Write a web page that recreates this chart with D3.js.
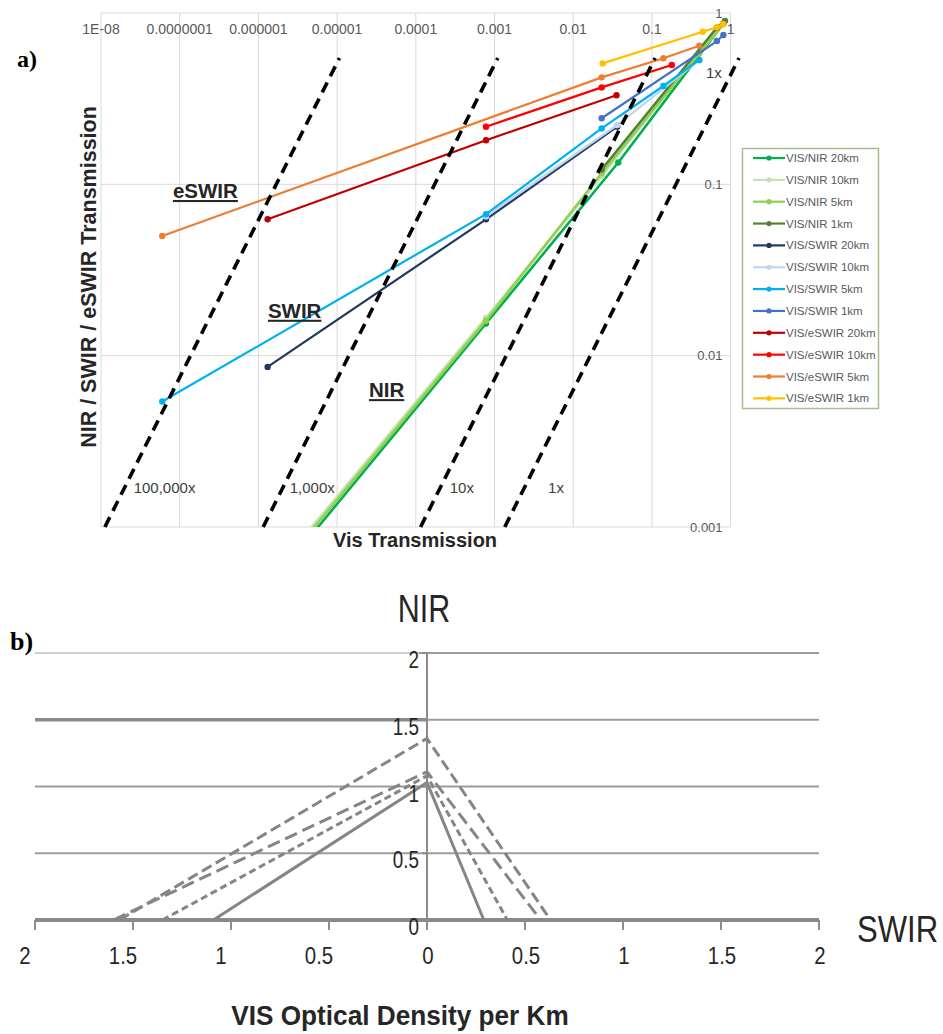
<!DOCTYPE html>
<html>
<head>
<meta charset="utf-8">
<script src="https://cdn.jsdelivr.net/npm/d3@7"></script>
<style>
  body { margin: 0; background: #fff; }
  svg text { font-family: "Liberation Sans", Arial, sans-serif; }
</style>
</head>
<body>
<svg id="viz" width="943" height="1034"></svg>
<script>
// ---------- chart a) : transmission, log/log ----------
var xTicksA = [1e-8, 1e-7, 1e-6, 1e-5, 1e-4, 1e-3, 1e-2, 1e-1, 1];
var xTickLabelsA = ["1E-08", "0.0000001", "0.000001", "0.00001", "0.0001", "0.001", "0.01", "0.1", "1"];
var yTicksA = [0.001, 0.01, 0.1, 1];
var yTickLabelsA = ["0.001", "0.01", "0.1", "1"];

var seriesNames = ["VIS/NIR 20km", "VIS/NIR 10km", "VIS/NIR 5km", "VIS/NIR 1km",
                   "VIS/SWIR 20km", "VIS/SWIR 10km", "VIS/SWIR 5km", "VIS/SWIR 1km",
                   "VIS/eSWIR 20km", "VIS/eSWIR 10km", "VIS/eSWIR 5km", "VIS/eSWIR 1km"];
var seriesColors = ["#00B050", "#C5E0B4", "#92D050", "#548235",
                    "#203864", "#BDD7EE", "#00B0F0", "#4472C4",
                    "#C00000", "#FF0000", "#ED7D31", "#FFC000"];

// [vis transmission, band transmission]
var nir20 = [[1.31e-6, 4.4e-4], [7.8e-4, 0.0154], [0.0374, 0.134], [0.81, 0.87]];
var nir10 = [[1.31e-6, 4.9e-4], [7.8e-4, 0.0166], [0.023, 0.112], [0.67, 0.80]];
var nir5  = [[1.31e-6, 4.7e-4], [7.8e-4, 0.016], [0.023, 0.116], [0.40, 0.58], [0.81, 0.86]];
var nir1  = [[0.023, 0.122], [0.67, 0.82], [0.85, 0.90]];
var swir20 = [[1.31e-6, 0.0086], [7.8e-4, 0.0625], [0.0363, 0.217]];
var swir10 = [[7.8e-4, 0.065], [0.0363, 0.222], [0.40, 0.53]];
var swir5  = [[6e-8, 0.0054], [7.8e-4, 0.067], [0.023, 0.212], [0.14, 0.375], [0.40, 0.532]];
var swir1  = [[0.023, 0.243], [0.67, 0.686], [0.81, 0.744]];
var eswir20 = [[1.31e-6, 0.0625], [7.8e-4, 0.181], [0.0355, 0.331]];
var eswir10 = [[7.8e-4, 0.217], [0.023, 0.368], [0.179, 0.497]];
var eswir5  = [[6e-8, 0.0499], [0.023, 0.421], [0.14, 0.544], [0.40, 0.644]];
var eswir1  = [[0.0237, 0.508], [0.443, 0.778], [0.666, 0.825], [0.807, 0.859]];
var seriesData = [nir20, nir10, nir5, nir1, swir20, swir10, swir5, swir1,
                  eswir20, eswir10, eswir5, eswir1];

// dashed ratio guide lines and their labels
var ratioNames = ["100,000x", "1,000x", "10x", "1x"];
var ratioLines = [
  [[1.12e-8, 0.001], [1.07e-5, 0.546]],
  [[1.15e-6, 0.001], [1.10e-3, 0.546]],
  [[1.15e-4, 0.001], [0.110, 0.546]],
  [[1.35e-3, 0.001], [1.28, 0.546]]
];
var ratioLabelAt = [[2.6e-8, 0.00158], [2.5e-6, 0.00158], [2.7e-4, 0.00158], [4.8e-3, 0.00158]];
var extraLabel = "1x", extraLabelAt = [0.487, 0.418];

var bandNames = ["eSWIR", "SWIR", "NIR"];
var bandLabelAt = [[8.2e-8, 0.0832], [1.32e-6, 0.01664], [2.54e-5, 0.00573]];

// ---------- chart b) : optical density ----------
var odTicks = [-2, -1.5, -1, -0.5, 0, 0.5, 1, 1.5, 2];
var nirTicks = [0, 0.5, 1, 1.5, 2];
// [swir side (neg = VIS/NIR side), nir]
var odSolid  = [[-1.09, 0], [0, 1.03], [0.29, 0]];
var odShort  = [[-1.35, 0], [0, 1.08], [0.41, 0]];
var odLong   = [[-1.60, 0], [0, 1.11], [0.58, 0]];
var odLong2  = [[-1.57, 0], [0, 1.36], [0.63, 0]];
var odSeries = [odSolid, odShort, odLong, odLong2];
var odDash = ["", "7,4", "13,6", "11,5"];

var svg = d3.select("#viz");

// ================= chart a =================
var x = d3.scaleLog().domain([1e-8, 1]).range([101, 730.6]);
var y = d3.scaleLog().domain([0.001, 1]).range([527, 13]);

var ga = svg.append("g");

ga.append("defs").append("clipPath").attr("id", "plotA")
  .append("rect")
  .attr("x", x(1e-8)).attr("y", y(1))
  .attr("width", x(1) - x(1e-8)).attr("height", y(0.001) - y(1));

ga.append("g").selectAll("line").data(xTicksA).enter().append("line")
  .attr("x1", d => x(d)).attr("x2", d => x(d))
  .attr("y1", y(1)).attr("y2", y(0.001))
  .attr("stroke", "#D9D9D9").attr("stroke-width", 1);
ga.append("g").selectAll("line").data(yTicksA).enter().append("line")
  .attr("x1", x(1e-8)).attr("x2", x(1))
  .attr("y1", d => y(d)).attr("y2", d => y(d))
  .attr("stroke", "#D9D9D9").attr("stroke-width", 1);

ga.append("g").selectAll("text").data(xTicksA).enter().append("text")
  .attr("x", d => x(d)).attr("y", y(1) + 21)
  .attr("text-anchor", "middle")
  .style("font-size", "14px").attr("fill", "#595959")
  .text((d, i) => xTickLabelsA[i]);
ga.append("g").selectAll("text").data(yTicksA).enter().append("text")
  .attr("x", x(1) - 8).attr("y", d => y(d) + 4.5)
  .attr("text-anchor", "end")
  .style("font-size", "13px").attr("fill", "#595959")
  .text((d, i) => yTickLabelsA[i]);

var line = d3.line()
  .x(function(d) { return x(d[0]); })
  .y(function(d) { return y(d[1]); });

var series = ga.append("g").attr("clip-path", "url(#plotA)")
  .selectAll("g").data(seriesData).enter().append("g");
series.append("path")
  .attr("d", d => line(d))
  .attr("fill", "none")
  .attr("stroke", (d, i) => seriesColors[i])
  .attr("stroke-width", (d, i) => i < 4 ? 2.6 : 2.2);
series.each(function(d, i) {
  d3.select(this).selectAll("circle").data(d).enter().append("circle")
    .attr("cx", p => x(p[0])).attr("cy", p => y(p[1]))
    .attr("r", 3.2).attr("fill", seriesColors[i]);
});

// dashed guides
ga.append("g").selectAll("path").data(ratioLines).enter().append("path")
  .attr("d", d => line(d))
  .attr("fill", "none").attr("stroke", "#000")
  .attr("stroke-width", 3.6).attr("stroke-dasharray", "11,7");

ga.append("g").selectAll("text").data(ratioNames).enter().append("text")
  .attr("x", (d, i) => x(ratioLabelAt[i][0]))
  .attr("y", (d, i) => y(ratioLabelAt[i][1]))
  .style("font-size", "15px").attr("fill", "#404040")
  .text(d => d);
ga.append("text")
  .attr("x", x(extraLabelAt[0])).attr("y", y(extraLabelAt[1]))
  .style("font-size", "15px").attr("fill", "#404040")
  .text(extraLabel);

ga.append("g").selectAll("text").data(bandNames).enter().append("text")
  .attr("x", (d, i) => x(bandLabelAt[i][0]))
  .attr("y", (d, i) => y(bandLabelAt[i][1]))
  .style("font-size", "20.5px").style("font-weight", "bold")
  .style("text-decoration", "underline")
  .attr("fill", "#262626")
  .text(d => d);

// axis titles
ga.append("text")
  .attr("x", 415).attr("y", 547)
  .attr("text-anchor", "middle")
  .style("font-size", "20px").style("font-weight", "bold").attr("fill", "#262626")
  .text("Vis Transmission");
ga.append("text")
  .attr("transform", "translate(96,277) rotate(-90)")
  .attr("text-anchor", "middle")
  .style("font-size", "21.5px").style("font-weight", "bold").attr("fill", "#262626")
  .text("NIR / SWIR / eSWIR Transmission");

// legend
var lg = ga.append("g");
lg.append("rect")
  .attr("x", 742.5).attr("y", 148.5).attr("width", 136).attr("height", 260)
  .attr("fill", "#fff").attr("stroke", "#A8BE8E").attr("stroke-width", 1.5);
var items = lg.selectAll("g").data(seriesNames).enter().append("g")
  .attr("transform", (d, i) => "translate(0," + (158 + i * 21.85) + ")");
items.append("line")
  .attr("x1", 753).attr("x2", 785).attr("y1", 0).attr("y2", 0)
  .attr("stroke", (d, i) => seriesColors[i]).attr("stroke-width", 2.2);
items.append("circle")
  .attr("cx", 769).attr("cy", 0).attr("r", 2.6)
  .attr("fill", (d, i) => seriesColors[i]);
items.append("text")
  .attr("x", 786).attr("y", 4)
  .style("font-size", "11.5px").attr("fill", "#595959")
  .text(d => d);

ga.append("text")
  .attr("x", 17).attr("y", 67)
  .style("font-family", "'Liberation Serif', 'Times New Roman', serif")
  .style("font-size", "24px").style("font-weight", "bold")
  .text("a)");

// ================= chart b =================
var xb = d3.scaleLinear().domain([-2, 2]).range([35, 819]);
var yb = d3.scaleLinear().domain([0, 2]).range([920, 653]);
var gb = svg.append("g");

// condensed (Calibri-like) text: squeeze horizontally
function narrow(sel, px, py, sx) {
  return sel.attr("transform", "translate(" + px + "," + py + ") scale(" + sx + ",1)");
}

gb.append("g").selectAll("line").data(nirTicks.slice(1)).enter().append("line")
  .attr("x1", xb(-2)).attr("x2", xb(2))
  .attr("y1", d => yb(d)).attr("y2", d => yb(d))
  .attr("stroke", "#9C9C9C").attr("stroke-width", 2);
// left half of the 1.5 line is heavier, the 2 line lighter
gb.append("line")
  .attr("x1", xb(-2)).attr("x2", xb(0)).attr("y1", yb(1.5)).attr("y2", yb(1.5))
  .attr("stroke", "#8A8A8A").attr("stroke-width", 3.5);
gb.append("line")
  .attr("x1", xb(-2)).attr("x2", xb(0) - 8).attr("y1", yb(2)).attr("y2", yb(2))
  .attr("stroke", "#D0D0D0").attr("stroke-width", 2);

// axes
gb.append("line")
  .attr("x1", xb(0)).attr("x2", xb(0)).attr("y1", yb(2)).attr("y2", yb(0) + 6)
  .attr("stroke", "#8C8C8C").attr("stroke-width", 2);
gb.append("g").selectAll("line").data(nirTicks).enter().append("line")
  .attr("x1", xb(0) - 5).attr("x2", xb(0))
  .attr("y1", d => yb(d)).attr("y2", d => yb(d))
  .attr("stroke", "#8C8C8C").attr("stroke-width", 2);
gb.append("line")
  .attr("x1", xb(-2)).attr("x2", xb(2)).attr("y1", yb(0)).attr("y2", yb(0))
  .attr("stroke", "#8A8A8A").attr("stroke-width", 4);
gb.append("g").selectAll("line").data(odTicks).enter().append("line")
  .attr("x1", d => xb(d)).attr("x2", d => xb(d))
  .attr("y1", yb(0)).attr("y2", yb(0) + 10)
  .attr("stroke", "#8C8C8C").attr("stroke-width", 2);

var lineB = d3.line()
  .x(function(d) { return xb(d[0]); })
  .y(function(d) { return yb(d[1]); });
gb.append("g").selectAll("path").data(odSeries).enter().append("path")
  .attr("d", d => lineB(d))
  .attr("fill", "none").attr("stroke", "#858585")
  .attr("stroke-width", 3)
  .attr("stroke-dasharray", (d, i) => odDash[i] || null);

gb.append("g").selectAll("text").data(nirTicks).enter().append("text")
  .each(function(d) { narrow(d3.select(this), xb(0) - 8, yb(d) + 15, 0.82); })
  .attr("text-anchor", "end")
  .style("font-size", "23px").attr("fill", "#262626")
  .text(d => d);
gb.append("g").selectAll("text").data(odTicks).enter().append("text")
  .each(function(d) { narrow(d3.select(this), xb(d) + (d < 0 ? -10 : 1), yb(0) + 44, 0.85); })
  .attr("text-anchor", "middle")
  .style("font-size", "24px").attr("fill", "#262626")
  .text(d => Math.abs(d));

narrow(gb.append("text"), xb(0) - 3, 622, 0.8)
  .attr("text-anchor", "middle")
  .style("font-size", "38px").attr("fill", "#262626")
  .text("NIR");
narrow(gb.append("text"), 857, 942, 0.84)
  .style("font-size", "37px").attr("fill", "#262626")
  .text("SWIR");
narrow(gb.append("text"), 400, 1025, 0.97)
  .attr("text-anchor", "middle")
  .style("font-size", "27px").style("font-weight", "bold").attr("fill", "#262626")
  .text("VIS Optical Density per Km");

gb.append("text")
  .attr("x", 10).attr("y", 650)
  .style("font-family", "'Liberation Serif', 'Times New Roman', serif")
  .style("font-size", "26px").style("font-weight", "bold")
  .text("b)");
</script>
</body>
</html>
